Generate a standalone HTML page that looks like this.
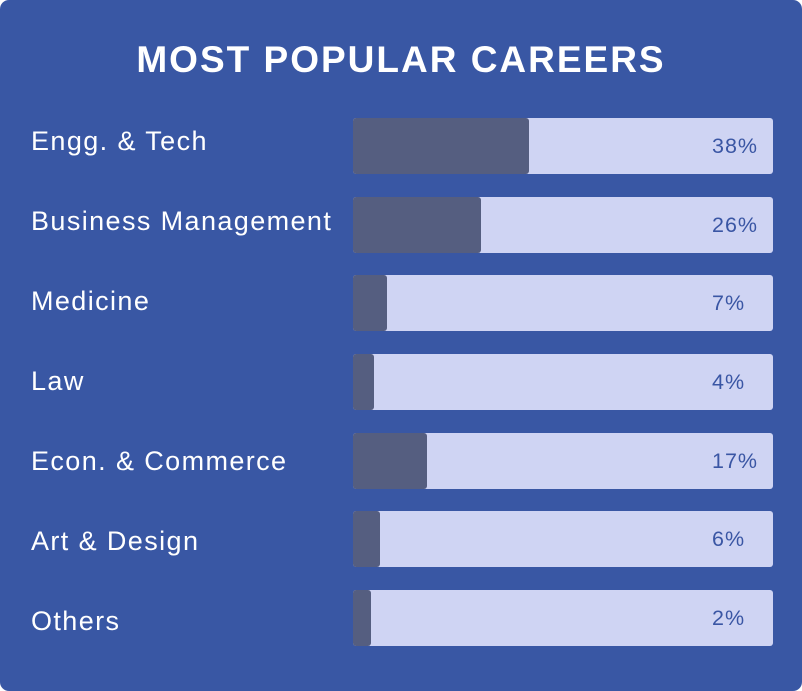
<!DOCTYPE html>
<html><head><style>
body{margin:0;background:#fff;}
.card{position:relative;width:802px;height:691px;background:#3957a4;border-radius:9px;font-family:"Liberation Sans",sans-serif;overflow:hidden}
.t{position:absolute;top:39px;left:0;width:802px;text-align:center;color:#fff;font-weight:bold;font-size:37px;letter-spacing:2px}
.l{position:absolute;left:31px;color:#fff;font-size:27px;letter-spacing:1.4px}
.b{position:absolute;left:353px;width:420px;height:56px;background:#cfd4f3;border-radius:3px}
.d{position:absolute;left:0;top:0;height:56px;background:#555e80;border-radius:3px}
.p{position:absolute;left:359px;top:16px;color:#3a56a4;font-size:21.5px;letter-spacing:1px}
</style></head><body><div class="card">
<div class="t">MOST POPULAR CAREERS</div>
<div class="l" style="top:126px">Engg. &amp; Tech</div>
<div class="b" style="top:118px"><div class="d" style="width:176px"></div><div class="p">38%</div></div>
<div class="l" style="top:206px">Business Management</div>
<div class="b" style="top:197px"><div class="d" style="width:128px"></div><div class="p">26%</div></div>
<div class="l" style="top:286px">Medicine</div>
<div class="b" style="top:275px"><div class="d" style="width:34px"></div><div class="p">7%</div></div>
<div class="l" style="top:366px">Law</div>
<div class="b" style="top:354px"><div class="d" style="width:21px"></div><div class="p">4%</div></div>
<div class="l" style="top:446px">Econ. &amp; Commerce</div>
<div class="b" style="top:433px"><div class="d" style="width:74px"></div><div class="p">17%</div></div>
<div class="l" style="top:526px">Art &amp; Design</div>
<div class="b" style="top:511px"><div class="d" style="width:27px"></div><div class="p">6%</div></div>
<div class="l" style="top:606px">Others</div>
<div class="b" style="top:590px"><div class="d" style="width:18px"></div><div class="p">2%</div></div>
</div></body></html>
